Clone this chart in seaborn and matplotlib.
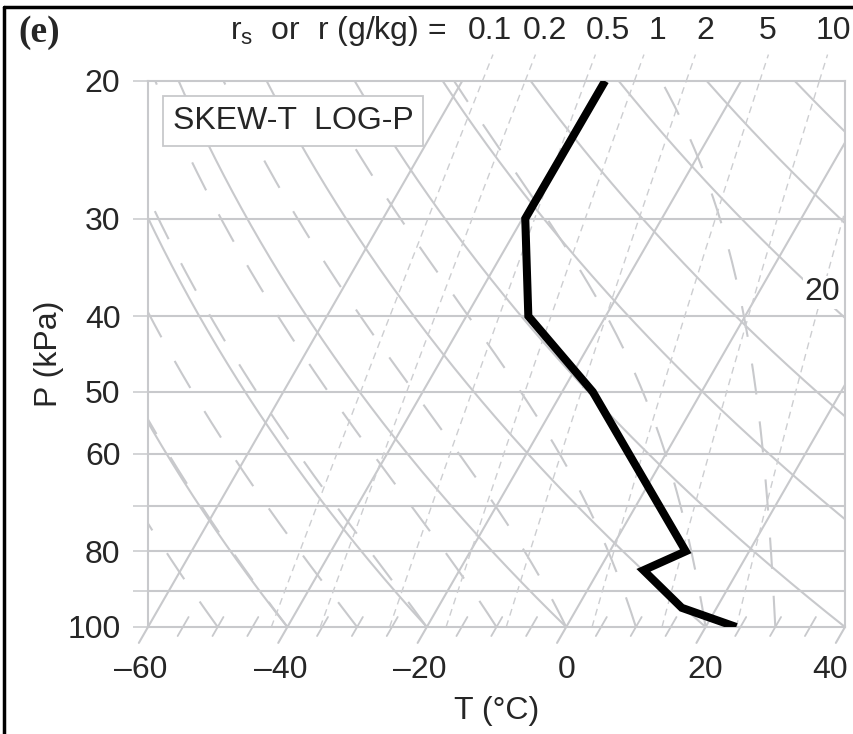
import numpy as np
import pandas as pd
import matplotlib
matplotlib.use("Agg")
import matplotlib.pyplot as plt
import matplotlib.transforms as mtransforms
from matplotlib.lines import Line2D
from matplotlib.ticker import FixedLocator, NullFormatter
import seaborn as sns

# ---------------- data ----------------
sounding_P = [100, 94.5, 84.6, 80, 50, 40, 30, 20]          # kPa
sounding_T = [24.4, 15.0, 6.4, 10.9, -15.6, -31.1, -39.6, -39.5]  # degC
isotherms = [-60, -40, -20, 0, 20, 40]
dry_adiabats = [-40, -20, 0, 20, 40, 60, 80, 100, 120, 140]
moist_adiabats = [-50, -40, -30, -20, -10, 0, 10, 20, 30, 40]
mixing_ratios = [0.1, 0.2, 0.5, 1, 2, 5, 10, 20]
mixing_top_labels = ["0.1", "0.2", "0.5", "1", "2", "5", "10"]
p_ticks = [20, 30, 40, 50, 60, 80, 100]
p_grid = [20, 30, 40, 50, 60, 70, 80, 90, 100]
t_ticks = [-60, -40, -20, 0, 20, 40]
minor_t_ticks = [t for t in range(-60, 45, 5) if t % 20 != 0]

# ---------------- physics helpers ----------------
K = 64.5  # skew (degC per decade of pressure)
Rd, cp, Lv, eps = 287.0, 1004.0, 2.5e6, 0.622


def skew(T, P):
    return np.asarray(T, float) + K * np.log10(100.0 / np.asarray(P, float))


def es(Tk):
    return 0.6113 * np.exp(5423.0 * (1 / 273.15 - 1 / Tk))


def t_from_r(r_gkg, P):
    P = np.asarray(P, float)
    e = r_gkg * P / (622.0 + r_gkg)
    invT = 1 / 273.15 - np.log(e / 0.6113) / 5423.0
    return 1 / invT - 273.15


def moist_profile(tw, P):
    lnP = np.log(P)
    T = np.empty_like(P)
    T[0] = tw + 273.15

    def f(Tk, p):
        e = es(Tk)
        rs = eps * e / (p - e)
        return (Rd * Tk + Lv * rs) / (cp + Lv * Lv * rs * eps / (Rd * Tk * Tk))

    for i in range(1, len(P)):
        h = lnP[i] - lnP[i - 1]
        p0 = P[i - 1]
        pm = np.exp(lnP[i - 1] + h / 2)
        p1 = P[i]
        k1 = f(T[i - 1], p0)
        k2 = f(T[i - 1] + h / 2 * k1, pm)
        k3 = f(T[i - 1] + h / 2 * k2, pm)
        k4 = f(T[i - 1] + h * k3, p1)
        T[i] = T[i - 1] + h / 6 * (k1 + 2 * k2 + 2 * k3 + k4)
    return T - 273.15


# ---------------- styling ----------------
sns.set_theme(style="white")
plt.rcParams["font.family"] = ["Liberation Sans", "DejaVu Sans"]
plt.rcParams["mathtext.fontset"] = "custom"
plt.rcParams["mathtext.rm"] = "Liberation Sans"

GRAY = "#c8c9cc"
LGRAY = "#cdced1"
FS = 23

W, H = 854, 734
fig = plt.figure(figsize=(W / 100, H / 100), dpi=100)
ax = fig.add_axes([148 / W, 1 - 627 / H, (845 - 148) / W, (627 - 81) / H])
ax.set_yscale("log")
ax.set_ylim(100, 20)
ax.set_xlim(-60, 40)

P = np.geomspace(100, 20, 300)
LW = 1.5

# horizontal pressure lines
for p in p_grid[1:-1]:
    ax.axhline(p, color=GRAY, lw=LW, zorder=1)

# isotherms
for t in isotherms:
    ax.plot(skew([t, t], [100, 20]), [100, 20], color=GRAY, lw=LW, zorder=1)
    ax.plot(skew([t, t], [104.8, 100]), [104.8, 100], color=GRAY, lw=LW,
            zorder=1, clip_on=False)
for t in minor_t_ticks:
    ax.plot(skew([t, t], [102.7, 97.1]), [102.7, 97.1], color=GRAY, lw=1.3,
            zorder=1, clip_on=False)

# dry adiabats
for th in dry_adiabats:
    T = (th + 273.15) * (P / 100.0) ** 0.2857 - 273.15
    ax.plot(skew(T, P), P, color=GRAY, lw=LW, zorder=1)

# moist adiabats
for tw in moist_adiabats:
    T = moist_profile(tw, P)
    ax.plot(skew(T, P), P, color=GRAY, lw=LW, zorder=1,
            linestyle=(0, (15, 13)))

# mixing-ratio lines
Pm = np.geomspace(100, 20, 200)
for r in mixing_ratios:
    T = t_from_r(r, Pm)
    ax.plot(skew(T, Pm), Pm, color=LGRAY, lw=1.0, zorder=1,
            linestyle=(0, (5, 3.6)))
# short extensions above the top of the diagram
Pe = np.geomspace(20, 18.5, 10)
for r in mixing_ratios[:-1]:
    T = t_from_r(r, Pe)
    ax.plot(skew(T, Pe), Pe, color=LGRAY, lw=1.0, zorder=1,
            linestyle=(0, (5, 3.6)), clip_on=False)

# header: mixing-ratio labels
label_px = [490, 545, 608, 658, 705, 768, 833]
for xp, lab in zip(label_px, mixing_top_labels):
    fig.text(xp / W, 1 - 31 / H, lab, ha="center", va="center", fontsize=FS)
p20 = 37.3
ax.text(skew(t_from_r(20, p20), p20), p20, "20", ha="center", va="center",
        fontsize=FS, zorder=3,
        bbox=dict(boxstyle="square,pad=0.05", fc="white", ec="none"))

# sounding
df = pd.DataFrame({"x": skew(sounding_T, sounding_P), "P": sounding_P})
sns.lineplot(data=df, x="x", y="P", sort=False, estimator=None, color="black",
             lw=5.8, ax=ax, zorder=5)
ax.lines[-1].set_solid_joinstyle("miter")
ax.lines[-1].set_solid_capstyle("butt")

# legend box
ax.text((173 - 148) / 697, (627 - 121) / 546, "SKEW-T  LOG-P",
        transform=ax.transAxes, ha="left", va="center", fontsize=FS,
        zorder=10,
        bbox=dict(boxstyle="square,pad=0.3", fc="white", ec=GRAY, lw=1.3))

# axes styling
for s in ax.spines.values():
    s.set_color(GRAY)
    s.set_linewidth(LW)
ax.set_yticks(p_ticks)
ax.set_yticklabels([str(p) for p in p_ticks])
ax.yaxis.set_minor_locator(FixedLocator([70, 90]))
ax.yaxis.set_minor_formatter(NullFormatter())
ax.tick_params(axis="y", which="both", length=10.8, width=1.1, color=GRAY,
               labelsize=FS, pad=9, left=True, direction="out")
ax.set_xticks(t_ticks)
ax.set_xticklabels([f"{t}" if t >= 0 else f"\u2013{-t}" for t in t_ticks])
ax.tick_params(axis="x", length=0, pad=20, labelsize=FS)
for t, lab in zip(t_ticks, ax.get_xticklabels()):
    dx = -7 if t < 0 else (-15 if t == 40 else 0)
    lab.set_transform(lab.get_transform() +
                      mtransforms.ScaledTranslation(dx / 100, 0,
                                                    fig.dpi_scale_trans))
ax.set_xlabel("T (°C)", fontsize=FS, labelpad=8)
ax.set_ylabel("P (kPa)", fontsize=FS, labelpad=2)

# header
fig.text(18 / W, 1 - 32 / H, "(e)", family="Liberation Serif",
         weight="bold", fontsize=27, va="center", ha="left")
fig.text(230 / W, 1 - 31 / H, r"$\mathregular{r_s}$  or  r (g/kg) =",
         fontsize=FS, va="center", ha="left")

# frame lines
fig.add_artist(Line2D([4 / W, 4 / W], [0, 1 - 7 / H], transform=fig.transFigure,
                      color="black", lw=2.5))
fig.add_artist(Line2D([4 / W, 1], [1 - 7 / H, 1 - 7 / H],
                      transform=fig.transFigure, color="black", lw=2.5))

fig.savefig("out.png", dpi=100)
